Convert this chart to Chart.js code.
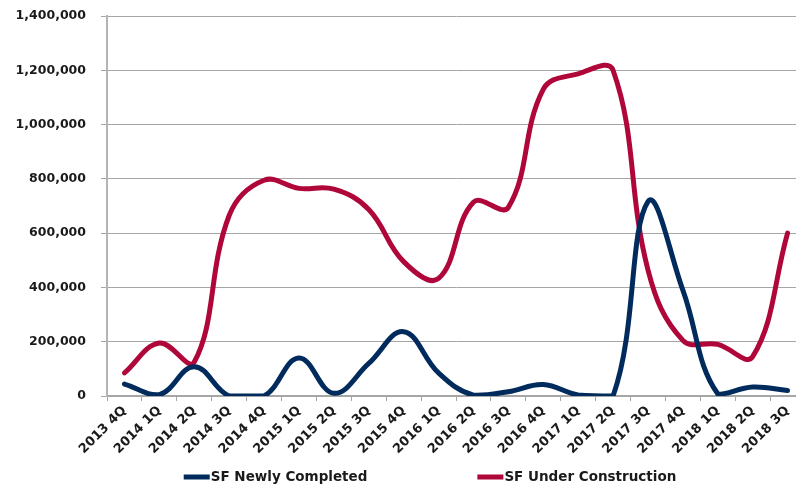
<!DOCTYPE html>
<html>
<head>
<meta charset="utf-8">
<script src="https://cdn.jsdelivr.net/npm/chart.js@4.4.0/dist/chart.umd.min.js"></script>
<style>
  html, body { margin: 0; padding: 0; overflow: hidden; background: #fff; }
  #wrap { width: 810px; height: 487px; }
</style>
</head>
<body>
<div id="wrap"><canvas id="sfChart" width="810" height="487"></canvas></div>
<script>
// quarters on the x axis
var quarters = ['2013 4Q', '2014 1Q', '2014 2Q', '2014 3Q', '2014 4Q', '2015 1Q', '2015 2Q', '2015 3Q',
    '2015 4Q', '2016 1Q', '2016 2Q', '2016 3Q', '2016 4Q', '2017 1Q', '2017 2Q', '2017 3Q',
    '2017 4Q', '2018 1Q', '2018 2Q', '2018 3Q'];

// square feet
var sfCompleted = [44000, 5000, 108000, 0, 0, 140000, 10000, 120000, 237000, 85000,
    3000, 16000, 42000, 4000, 0, 716000, 390000, 8000, 33000, 20000];
var sfUnderConstruction = [85000, 195000, 125000, 665000, 795000, 765000, 762000, 687000, 495000, 433000,
    714000, 695000, 1130000, 1187000, 1200000, 465000, 205000, 190000, 145000, 600000];

var seriesNames = ['SF Newly Completed', 'SF Under Construction'];
var seriesColours = ['#002b5c', '#b0073a'];

var fontName = '"DejaVu Sans", sans-serif';

// legend drawn under the chart, line sample then label
var bottomLegend = {
    id: 'bottomLegend',
    afterDraw: function (chart) {
        var ctx = chart.ctx;
        ctx.save();
        ctx.font = 'bold 13.5px ' + fontName;
        ctx.textBaseline = 'middle';
        var sample = 26, gap = 110, y = 477;
        var items = chart.data.datasets.map(function (ds) {
            return { text: ds.label, colour: ds.borderColor, w: ctx.measureText(ds.label).width };
        });
        var total = 0;
        items.forEach(function (it) { total += sample + 1 + it.w; });
        total += gap * (items.length - 1);
        var x = 430 - total / 2;
        items.forEach(function (it) {
            ctx.fillStyle = it.colour;
            ctx.fillRect(x, y - 2.5, sample, 5);
            x += sample + 1;
            ctx.fillStyle = '#1a1a1a';
            ctx.fillText(it.text, x, y);
            x += it.w + gap;
        });
        ctx.restore();
    }
};

var ctx = document.getElementById('sfChart').getContext('2d');
var sfChart = new Chart(ctx, {
    type: 'line',
    data: {
        labels: quarters,
        datasets: [
            {
                label: seriesNames[0],
                data: sfCompleted,
                borderColor: seriesColours[0],
                backgroundColor: seriesColours[0]
            },
            {
                label: seriesNames[1],
                data: sfUnderConstruction,
                borderColor: seriesColours[1],
                backgroundColor: seriesColours[1]
            }
        ]
    },
    options: {
        responsive: false,
        animation: false,
        layout: { autoPadding: false, padding: { top: 16, right: 5, bottom: 30, left: 0 } },
        elements: {
            point: { radius: 0, hoverRadius: 0 },
            line: { borderWidth: 5, tension: 0.4, fill: false, borderCapStyle: 'round', borderJoinStyle: 'round' }
        },
        plugins: {
            legend: { display: false },
            tooltip: { enabled: false }
        },
        scales: {
            x: {
                offset: true,
                grid: { offset: true, drawOnChartArea: false, drawTicks: true, tickLength: 5, color: '#a6a6a6' },
                border: { color: '#a6a6a6', width: 2 },
                ticks: {
                    autoSkip: false,
                    maxRotation: 45,
                    minRotation: 45,
                    padding: 2,
                    color: '#1a1a1a',
                    font: { family: fontName, weight: 'bold', size: 13 }
                },
                afterFit: function (scale) { scale.height = 487 - 30 - 396; }
            },
            y: {
                min: 0,
                max: 1400000,
                ticks: {
                    stepSize: 200000,
                    padding: 15,
                    color: '#1a1a1a',
                    font: { family: fontName, weight: 'bold', size: 12.5 },
                    callback: function (v) { return v.toLocaleString('en-US'); }
                },
                grid: { color: '#a6a6a6', lineWidth: 1, tickLength: 6 },
                border: { color: '#b4b4b4', width: 2 },
                afterFit: function (scale) {
                    scale.width = 107;
                    // tick padding would otherwise push the top of the plot down
                    scale.paddingTop = 8;
                    scale.paddingBottom = 8;
                }
            }
        }
    },
    plugins: [bottomLegend]
});
</script>
</body>
</html>
